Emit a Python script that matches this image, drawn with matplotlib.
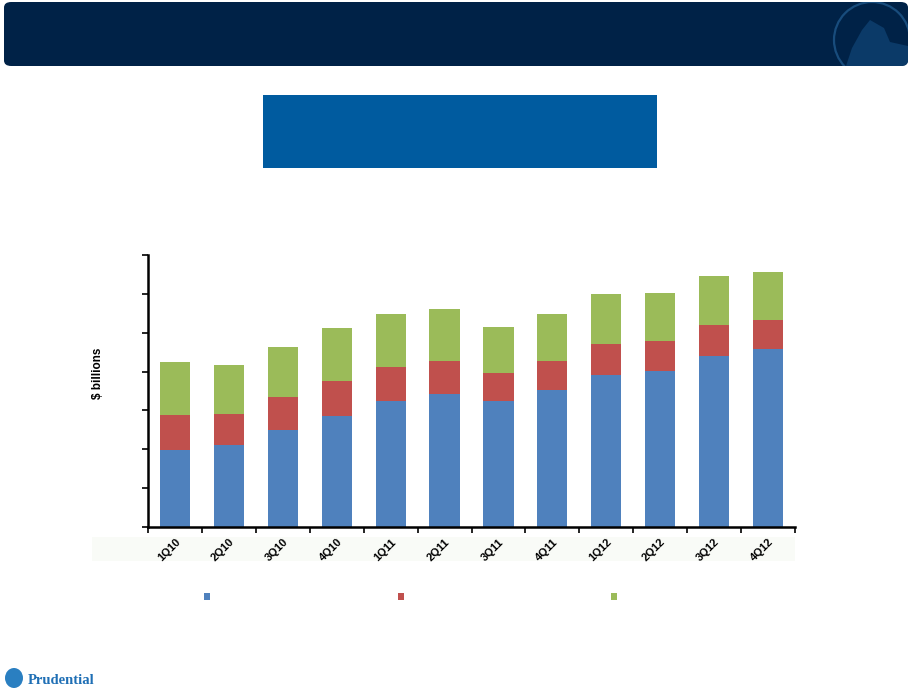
import numpy as np
import matplotlib.pyplot as plt
from matplotlib.patches import FancyBboxPatch, Rectangle, Ellipse, Polygon

quarters = ["1Q10", "2Q10", "3Q10", "4Q10", "1Q11", "2Q11",
            "3Q11", "4Q11", "1Q12", "2Q12", "3Q12", "4Q12"]

#stack values (axis has no labels, 1 unit = 1 tick)
blue_vals = [1.99, 2.12, 2.49, 2.86, 3.25, 3.42, 3.24, 3.52, 3.91, 4.02, 4.41, 4.58]
red_vals = [0.90, 0.79, 0.85, 0.89, 0.86, 0.85, 0.72, 0.74, 0.81, 0.76, 0.78, 0.75]
green_vals = [1.35, 1.25, 1.30, 1.36, 1.36, 1.33, 1.18, 1.21, 1.28, 1.23, 1.26, 1.23]

BLUE = "#4f81bd"
RED = "#c0504d"
GREEN = "#9bbb59"

W, H = 910, 693


def fx(px):
    return px / W


def fy(py):
    return 1 - py / H


fig = plt.figure(figsize=(9.1, 6.93), dpi=100)

#header band
header = FancyBboxPatch((fx(4), fy(66)), fx(904), 64 / H,
                        boxstyle="round,pad=0,rounding_size=0.008",
                        transform=fig.transFigure, zorder=-2,
                        facecolor="#002247", edgecolor="none")
fig.patches.append(header)
#emblem in header (rock inside a ring), clipped to the band
ring = Ellipse((fx(872), fy(40)), 76 / W, 76 / H, transform=fig.transFigure,
               facecolor="none", edgecolor="#184c7c", linewidth=1.6, zorder=-1)
rock = Polygon([(fx(846), fy(66)), (fx(852), fy(48)), (fx(862), fy(30)),
                (fx(870), fy(20)), (fx(884), fy(28)), (fx(890), fy(42)),
                (fx(908), fy(46)), (fx(908), fy(66))],
               closed=True, transform=fig.transFigure,
               facecolor="#0b3a68", edgecolor="none", zorder=-1)
for p in (ring, rock):
    fig.patches.append(p)
    p.set_clip_path(header)

#blue title box
fig.patches.append(Rectangle((fx(263), fy(168)), 394 / W, 73 / H,
                             transform=fig.transFigure, zorder=-2,
                             facecolor="#005b9f", edgecolor="none"))

#faint strip behind the x labels
fig.patches.append(Rectangle((fx(92), fy(561)), 703 / W, 24 / H,
                             transform=fig.transFigure, zorder=-2,
                             facecolor="#f9fbf7", edgecolor="none"))

ax = fig.add_axes([fx(148), fy(527), 647 / W, 272 / H])
ax.patch.set_alpha(0)

x = np.arange(len(quarters))
w = 0.56
blue = np.array(blue_vals)
red = np.array(red_vals)
green = np.array(green_vals)
ax.bar(x, blue, w, color=BLUE)
ax.bar(x, red, w, bottom=blue, color=RED)
ax.bar(x, green, w, bottom=blue + red, color=GREEN)

ax.set_xlim(-0.5, len(quarters) - 0.5)
ax.set_ylim(0, 7)
ax.set_yticks(np.arange(0, 8))
ax.set_yticklabels([])
ax.set_xticks(np.arange(-0.5, len(quarters)))
ax.set_xticklabels([])
ax.set_xticks(x, minor=True)
ax.set_xticklabels(quarters, minor=True, rotation=45, ha="right", va="top",
                   rotation_mode="anchor", fontsize=8, fontweight="bold",
                   family="Liberation Sans")
ax.tick_params(axis="x", which="minor", length=0, pad=7)
ax.tick_params(axis="both", which="major", direction="out", length=4, width=1.2)
for s in ["top", "right"]:
    ax.spines[s].set_visible(False)
for s in ["left", "bottom"]:
    ax.spines[s].set_linewidth(1.8)

fig.text(fx(98), fy(373), "$ billions", rotation=90, ha="center", va="center",
         fontsize=8.5, fontweight="bold", family="Liberation Sans")

#legend markers (no text in the picture)
for xm, c in zip([204, 398, 611], [BLUE, RED, GREEN]):
    fig.patches.append(Rectangle((fx(xm), fy(600)), 6 / W, 7 / H,
                                 transform=fig.transFigure,
                                 facecolor=c, edgecolor="none"))

#company logo bottom-left
fig.patches.append(Ellipse((fx(14), fy(678)), 18 / W, 20 / H, transform=fig.transFigure,
                           facecolor="#2a7fc1", edgecolor="none"))
fig.text(fx(28), fy(681), "Prudential", fontsize=10.5, color="#1f6fb5",
         family="Liberation Serif", fontweight="bold", va="center", ha="left")

fig.savefig("out.png", dpi=100)
